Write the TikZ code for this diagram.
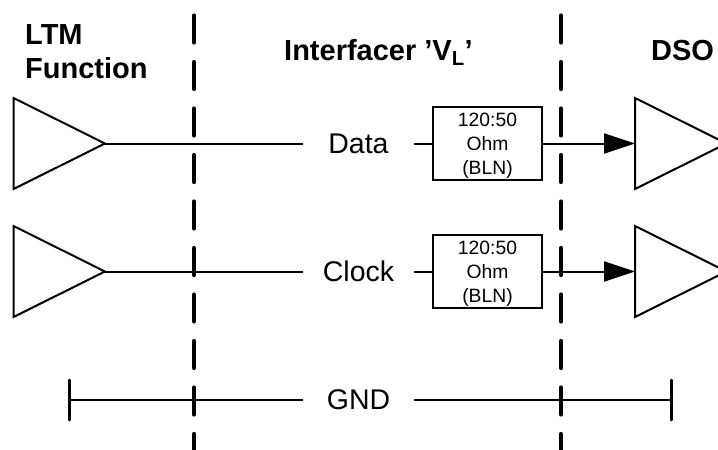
\documentclass[tikz,border=0pt]{standalone}
\usepackage{fontspec}
\setmainfont{Liberation Sans}
\usetikzlibrary{arrows.meta}
\tikzset{
  x=1pt,y=-1pt,
  thinline/.style={line width=2pt,black},
  sep/.style={line width=4.2pt,line cap=round,dash pattern=on 27pt off 19.5pt,black},
  title/.style={font=\fontsize{29}{34}\selectfont\bfseries,inner sep=0pt,align=left,anchor=base west},
  lab/.style={font=\fontsize{28.5}{32}\selectfont,inner sep=0pt,minimum width=111pt,minimum height=30pt},
  bal/.style={draw,line width=2pt,minimum width=109.5pt,minimum height=72.5pt,inner sep=0pt,align=center,font=\fontsize{19.3}{24}\selectfont},
  arr/.style={thinline,-{Triangle[length=31pt,width=20pt]}},
  tick/.style={line width=3pt,line cap=round,black}
}
\begin{document}
\begin{tikzpicture}
\useasboundingbox (0,0) rectangle (718,450);
\clip (0,0) rectangle (718,450);
% section separators
\coordinate (s1t) at (194,15.5); \coordinate (s1b) at (194,450);
\coordinate (s2t) at (561,15.5); \coordinate (s2b) at (561,450);
% titles
\node[title] (ltm) at (25,44) {LTM};
\node[title] (fn) at (25,78) {Function};
\node[title] (ifc) at (284,60.5) {Interfacer ’V\textsubscript{L}’};
\node[title] (dso) at (651,60.5) {DSO};
% triangles
\coordinate (a1) at (13.5,98); \coordinate (b1) at (13.5,189); \coordinate (t1) at (105,143.5);
\coordinate (a2) at (13.5,226); \coordinate (b2) at (13.5,317); \coordinate (t2) at (105,271.5);
\coordinate (a3) at (635,98); \coordinate (b3) at (635,189); \coordinate (t3) at (726.5,143.5);
\coordinate (a4) at (635,226); \coordinate (b4) at (635,317); \coordinate (t4) at (726.5,271.5);
\coordinate (i3) at (635,143.5); \coordinate (i4) at (635,271.5);
\draw[thinline] (a1) -- (t1) -- (b1) -- cycle;
\draw[thinline] (a2) -- (t2) -- (b2) -- cycle;
\draw[thinline] (a3) -- (t3) -- (b3) -- cycle;
\draw[thinline] (a4) -- (t4) -- (b4) -- cycle;
% labels and boxes
\node[lab] (data) at (358.5,143.5) {Data};
\node[lab] (clock) at (358.5,271.5) {Clock};
\node[lab] (gnd) at (358.5,400) {GND};
\node[bal] (bal1) at (487.5,143.5) {\rule{0pt}{18pt}120:50\\Ohm\\(BLN)};
\node[bal] (bal2) at (487.5,271.5) {\rule{0pt}{18pt}120:50\\Ohm\\(BLN)};
% connectors
\draw[thinline] (t1) -- (data.west);
\draw[thinline] (data.east) -- (bal1.west);
\draw[arr] (bal1.east) -- (i3);
\draw[thinline] (t2) -- (clock.west);
\draw[thinline] (clock.east) -- (bal2.west);
\draw[arr] (bal2.east) -- (i4);
% ground
\coordinate (g1) at (69,400); \coordinate (g2) at (671,400);
\coordinate (g1t) at (69,380); \coordinate (g1b) at (69,420);
\coordinate (g2t) at (671,380); \coordinate (g2b) at (671,420);
\draw[thinline] (g1) -- (gnd.west);
\draw[thinline] (gnd.east) -- (g2);
\draw[tick] (g1t) -- (g1b);
\draw[tick] (g2t) -- (g2b);
\draw[sep] (s1t) -- (s1b);
\draw[sep] (s2t) -- (s2b);
\end{tikzpicture}
\end{document}
